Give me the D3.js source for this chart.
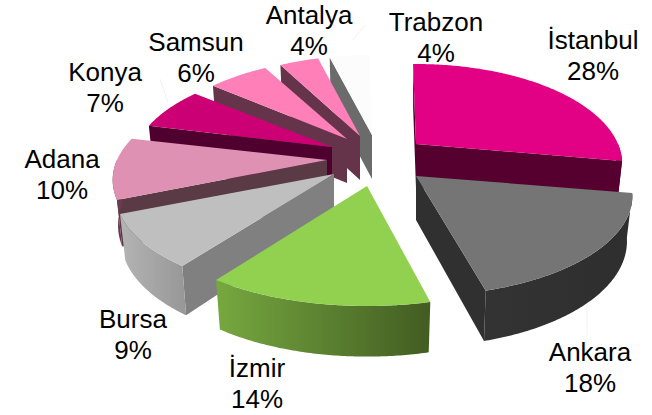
<!DOCTYPE html>
<html><head><meta charset="utf-8">
<script src="https://cdn.jsdelivr.net/npm/d3@7"></script>
<style>html,body{margin:0;padding:0;background:#fff}svg{display:block}text{font-family:"Liberation Sans",Arial,sans-serif;font-size:26px;fill:#000;text-anchor:middle}</style>
</head><body><svg id="c" width="652" height="415"></svg>
<script>
// Data
const cities = ["İstanbul","Ankara","İzmir","Bursa","Adana","Konya","Samsun","Antalya","Trabzon"];
const shares = [28,18,14,9,10,7,6,4,4];

// Styles and layout (per slice, same order as cities)
const topColors  = ["#e20084","#757575","#92d050","#bfbfbf","#df91b3","#cc0074","#ff80b8","#ff80b8","#fcfcfc"];
const faceColors = ["#55002f","#303030","#4f6f2b","#808080","#5a3a45","#50002e","#66344a","#66344a","#6b6b6b"];
const wallFrom   = ["#55002f","#333333","#76a83f","#b4b4b4","#6a3b50","#50002e","#66344a","#66344a","#6b6b6b"];
const wallTo     = ["#55002f","#2e2e2e","#425c22","#979797","#6a3b50","#50002e","#66344a","#66344a","#6b6b6b"];
const apexX = [416,416,367,334,327,332,347,360,372];
const apexY = [144,176,186,174,160,147,139,136,135];
const radii = [202,212,220,214,210,197,193,188,190];
const startNudge = [0,0,2,1.5,0,0,0,0,0];          // degrees, perspective correction of a slice's first edge
const labelX = [593,590,257,133,62,105,196,309,436];
const labelY = [40,352,368,319,159,72,42,15,22];   // line 1 centre
const lineGap = 31;
const Ry = 96, persp = 0.2, depth = 44, shrink = 0.975, rot = -1 * Math.PI / 180;

const pie = d3.pie().sort(null).startAngle(rot).endAngle(2 * Math.PI + rot);
const arcs = pie(shares);
const svg = d3.select("#c");
const defs = svg.append("defs");
const line = d3.line();

function topPt(i, t) {
  const d = -Math.cos(t), s = 1 / (1 - persp * d);
  return [apexX[i] + radii[i] * Math.sin(t) * s, apexY[i] + Ry * d * s];
}
function botPt(i, t) {
  const p = topPt(i, t);
  const d = -Math.cos(t);
  return [apexX[i] + (p[0] - apexX[i]) * shrink, p[1] + depth * (1 + 0.15 * Math.max(d, 0))];
}
function samples(a, b) {
  const n = Math.max(2, Math.ceil(Math.abs(b - a) / 0.01));
  return d3.range(n + 1).map(k => a + (b - a) * k / n);
}

// faint leader lines
const leaderX1 = [587,160,353];
const leaderY1 = [303,79,40];
const leaderX2 = [587,168,365];
const leaderY2 = [335,103,25];
leaderX1.forEach((x, k) => svg.append("line")
  .attr("x1", x).attr("y1", leaderY1[k]).attr("x2", leaderX2[k]).attr("y2", leaderY2[k])
  .attr("stroke", "#f2f2f2").attr("stroke-width", 1));

const order = [8,7,6,5,4,0,3,1,2];
order.forEach(i => {
  const a = arcs[i].startAngle + startNudge[i] * Math.PI / 180, b = arcs[i].endAngle;
  const g = svg.append("g").attr("class", "slice").datum(cities[i]);
  const apexTop = [apexX[i], apexY[i]], apexBot = [apexX[i], apexY[i] + depth];

  // radial faces that look toward the viewer
  [[a, Math.sin(a) < 0], [b, Math.sin(b) > 0]].forEach(([t, visible]) => {
    if (visible) {
      g.append("path")
        .attr("d", line([apexTop, topPt(i, t), botPt(i, t), apexBot]) + "Z")
        .attr("fill", faceColors[i]);
    }
  });

  // outer wall, front half only
  const w0 = Math.max(a, Math.PI / 2), w1 = Math.min(b, 3 * Math.PI / 2);
  if (w1 > w0) {
    const ts = samples(w0, w1);
    const outline = ts.map(t => topPt(i, t)).concat(ts.slice().reverse().map(t => botPt(i, t)));
    const xs = d3.extent(outline, p => p[0]);
    const id = "wall" + i;
    const lg = defs.append("linearGradient").attr("id", id)
      .attr("gradientUnits", "userSpaceOnUse")
      .attr("x1", xs[0]).attr("x2", xs[1]).attr("y1", 0).attr("y2", 0);
    lg.append("stop").attr("offset", 0).attr("stop-color", wallFrom[i]);
    lg.append("stop").attr("offset", 1).attr("stop-color", wallTo[i]);
    g.append("path").attr("d", line(outline) + "Z").attr("fill", `url(#${id})`);
  }

  // top surface
  const surface = [apexTop].concat(samples(a, b).map(t => topPt(i, t)));
  g.append("path").attr("d", line(surface) + "Z").attr("fill", topColors[i]);
});

// labels
cities.forEach((c, i) => {
  const t = svg.append("text").attr("x", labelX[i]);
  t.append("tspan").attr("x", labelX[i]).attr("y", labelY[i] + 8.5).text(c);
  t.append("tspan").attr("x", labelX[i]).attr("y", labelY[i] + 8.5 + lineGap).text(shares[i] + "%");
});
</script></body></html>
